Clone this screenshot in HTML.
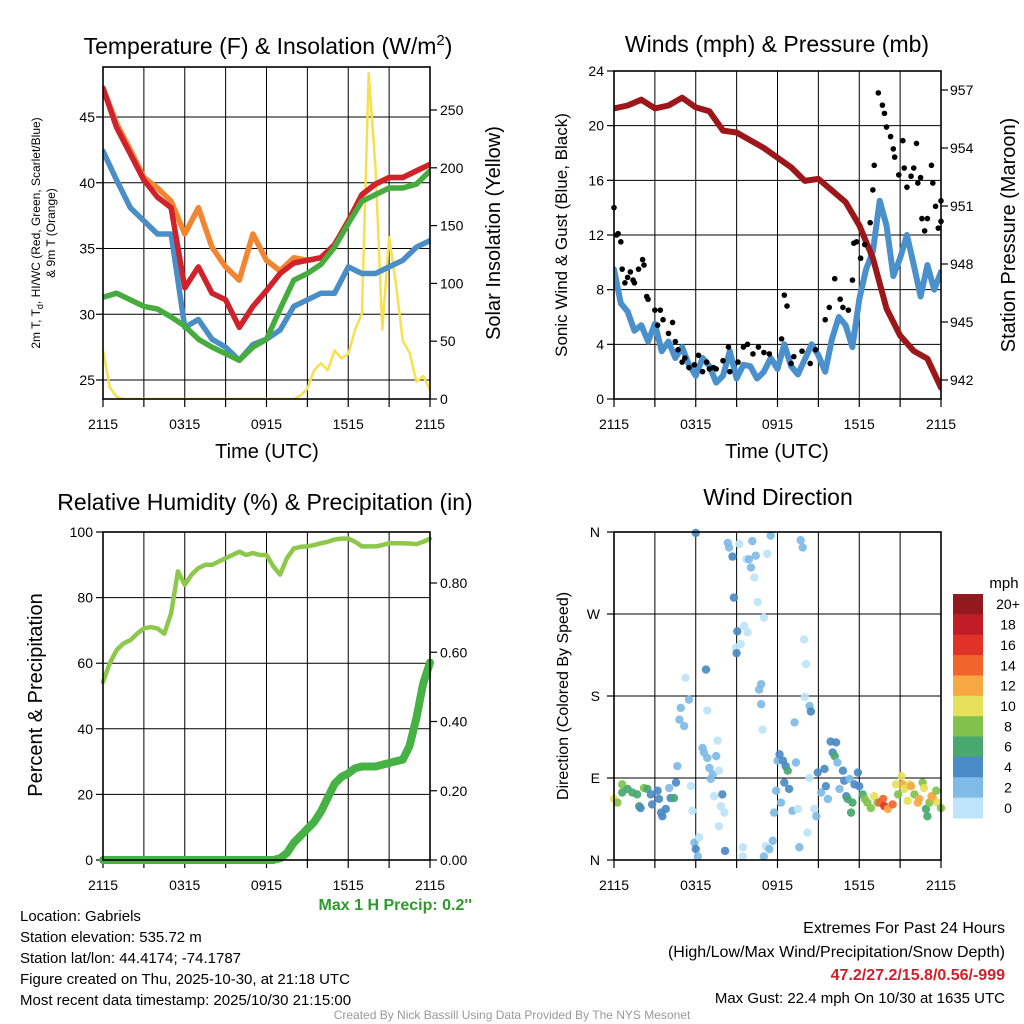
<!DOCTYPE html>
<html><head><meta charset="utf-8"><style>
body{margin:0;background:#fff}
svg{display:block;font-family:"Liberation Sans",sans-serif}
</style></head><body>
<svg id="c" width="1024" height="1024" viewBox="0 0 1024 1024">
<rect width="1024" height="1024" fill="#fff"/>
<defs>
<clipPath id="cp1"><rect x="103" y="67" width="327" height="332"/></clipPath>
<clipPath id="cp2"><rect x="614" y="71" width="327" height="328"/></clipPath>
</defs>
<g id="g1"></g>
<g id="g2"></g>
<g id="g3"></g>
<g id="g4"></g>
<text x="268" y="54" font-size="23" text-anchor="middle">Temperature (F) &amp; Insolation (W/m<tspan dy="-9" font-size="15">2</tspan><tspan dy="9">)</tspan></text>
<text x="777" y="52" font-size="23" text-anchor="middle">Winds (mph) &amp; Pressure (mb)</text>
<text x="265" y="510" font-size="23" text-anchor="middle">Relative Humidity (%) &amp; Precipitation (in)</text>
<text x="778" y="505" font-size="23" text-anchor="middle">Wind Direction</text>
<text transform="translate(40,233) rotate(-90)" font-size="12" text-anchor="middle">2m T, T<tspan font-size="9" dy="3">d</tspan><tspan dy="-3">, HI/WC (Red, Green, Scarlet/Blue)</tspan></text>
<text transform="translate(55,233) rotate(-90)" font-size="12" text-anchor="middle">&amp; 9m T (Orange)</text>
<text transform="translate(500,233) rotate(-90)" font-size="20" text-anchor="middle">Solar Insolation (Yellow)</text>
<text x="267" y="458" font-size="20" text-anchor="middle">Time (UTC)</text>
<text x="777" y="458" font-size="20" text-anchor="middle">Time (UTC)</text>
<text transform="translate(567,235) rotate(-90)" font-size="17" text-anchor="middle">Sonic Wind &amp; Gust (Blue, Black)</text>
<text transform="translate(1015,235) rotate(-90)" font-size="20" text-anchor="middle">Station Pressure (Maroon)</text>
<text transform="translate(42,695) rotate(-90)" font-size="20" text-anchor="middle">Percent &amp; Precipitation</text>
<text transform="translate(568,696) rotate(-90)" font-size="16" text-anchor="middle">Direction (Colored By Speed)</text>
<text x="1004" y="588" font-size="15" text-anchor="middle">mph</text>
<text x="472" y="910" font-size="16" font-weight="bold" fill="#2e9a2a" text-anchor="end">Max 1 H Precip: 0.2''</text>
<g font-size="15">
<text x="20" y="921">Location: Gabriels</text>
<text x="20" y="942">Station elevation: 535.72 m</text>
<text x="20" y="963">Station lat/lon: 44.4174; -74.1787</text>
<text x="20" y="984">Figure created on Thu, 2025-10-30, at 21:18 UTC</text>
<text x="20" y="1005">Most recent data timestamp: 2025/10/30 21:15:00</text>
</g>
<g font-size="16" text-anchor="end">
<text x="1005" y="933">Extremes For Past 24 Hours</text>
<text x="1005" y="957">(High/Low/Max Wind/Precipitation/Snow Depth)</text>
<text x="1005" y="980" font-weight="bold" fill="#d0202a">47.2/27.2/15.8/0.56/-999</text>
<text x="1005" y="1003" font-size="15">Max Gust: 22.4 mph On 10/30 at 1635 UTC</text>
</g>
<text x="512" y="1019" font-size="12" fill="#999" text-anchor="middle">Created By Nick Bassill Using Data Provided By The NYS Mesonet</text>
</svg>
<script>
const timeTicks=['2115','0315','0915','1515','2115'];
// hourly
const tempRed=[47.2,44.2,42.2,40.2,38.9,38.1,32,33.6,31.6,31.1,29,30.6,31.8,33.1,33.9,34.1,34.3,35.3,37.1,39.1,39.9,40.4,40.4,40.9,41.4];
const tempOrange=[47.2,44.5,42.5,40.4,39.6,38.6,36.1,38.1,35.1,33.6,32.6,36.1,34.1,33.3,34.3,34.1,34.3,35.3,37.1,39.1,39.9,40.4,40.4,40.9,41.4];
const tempBlue=[42.4,40.2,38.1,37.1,36.1,36.1,29,29.6,28.1,27.5,26.5,27.7,28.1,28.8,30.6,31.1,31.6,31.6,33.6,33.1,33.1,33.6,34.1,35.1,35.6];
const tempGreen=[31.3,31.6,31.1,30.6,30.4,29.8,29.1,28.1,27.5,27.0,26.5,27.5,28.1,30.4,32.6,33.1,33.8,35.1,36.9,38.6,39.1,39.6,39.6,39.9,40.9];
// half-hourly
const solar=[42,10,2,0,0,0,0,0,0,0,0,0,0,0,0,0,0,0,0,0,0,0,0,0,0,0,0,0,0,3,9,25,31,25,42,35,39,60,74,282,200,60,140,100,50,40,15,20,8];
const wind=[9.5,7,6.4,5,5.4,4.2,5.5,3.5,4.2,3,3.8,2.5,1.7,3,2.4,1.2,1.7,3.5,1.5,2.5,2.4,1.5,2,3,2.2,4,2.4,1.8,2.9,4,3.2,2,4.4,6,5.4,3.8,7.3,9.5,10.8,14.5,12.7,9,10.3,12,9.8,7.5,9.8,8,9.3];
// hourly
const pressure=[956.05,956.2,956.5,956.05,956.2,956.6,956.1,955.9,954.9,954.8,954.4,954.0,953.5,953.0,952.3,952.4,951.8,951.2,950.0,948.3,945.7,944.3,943.5,943.1,941.6];
// gusts (hours since 2115, mph)
const gustTimes=[0,0.2,0.3,0.5,0.6,0.8,1,1.2,1.4,1.5,1.8,2.1,2.2,2.4,2.5,3,3.2,3.4,3.6,4,4.3,4.5,4.7,5,5.2,5.5,5.9,6.2,6.5,6.8,7,7.3,7.5,8,8.4,8.5,9.1,9.5,9.8,10.2,10.6,11,11.4,12.3,12.5,12.7,13,13.2,13.8,14.4,14.8,15.5,15.8,16.2,16.6,16.8,17.2,17.5,17.6,17.8,18.1,18.4,18.8,19.0,19.1,19.4,19.7,19.85,20.0,20.3,20.5,20.6,20.9,21.2,21.3,21.5,21.8,22.0,22.2,22.3,22.5,22.6,22.8,23.0,23.3,23.4,23.6,23.8,24,24];
const gustValues=[14,12,12.1,11.5,9.5,8.5,8.9,9.3,8.7,8.5,9.5,10.2,9.8,7.5,7.3,6.5,5.4,6.5,5.8,4.8,5.6,4.2,3.6,2.7,3,2.3,2.5,3.2,2,2.7,2.2,2.3,2.2,2.8,3.8,2,2.7,3.8,4,3.3,3.8,3.4,3.3,4.4,7.6,6.8,2.6,3.1,3.5,2.6,3.6,5.8,6.7,8.8,7.3,6.7,6.5,8.7,11.4,11.5,10.3,11.3,12.9,15.3,17.1,22.4,21.5,20.9,19.9,19.2,18.3,17.7,16.4,18.9,16.9,15.5,16.3,16.9,18.7,15.8,16.2,13.2,12.3,13.2,17.1,15.8,14.1,12.5,14.5,13.0];
// half-hourly
const rh=[54.3,60,64,66,67,69,70.6,71,70.6,69,75.2,88,83.9,87,89,90,90,91,92,93,94,93,93.6,93,93,89.5,87,92,95,95.5,95.6,96,96.6,97,97.7,98,98,97,95.6,95.6,95.6,96,96.6,96.6,96.6,96.5,96.3,97,98];
const precip=[0,0,0,0,0,0,0,0,0,0,0,0,0,0,0,0,0,0,0,0,0,0,0,0,0,0,0.005,0.02,0.05,0.07,0.09,0.11,0.14,0.18,0.22,0.24,0.25,0.265,0.27,0.27,0.27,0.275,0.28,0.285,0.29,0.33,0.41,0.51,0.57];
// wind direction observations
const dirTimes=[0,0.25,0.6,0.6,1.0,1.35,1.7,1.85,1.95,2.2,2.45,2.7,2.8,3.2,3.3,3.45,3.55,3.8,4.05,4.15,4.4,4.55,4.65,4.8,4.9,5.15,5.25,5.5,5.65,5.75,5.9,6.0,6.15,6.25,6.0,6.5,6.6,6.75,6.85,6.85,7.0,7.1,7.25,7.35,7.5,7.6,7.7,7.7,7.85,7.95,8.1,8.15,8.35,8.45,8.7,8.8,8.95,9.0,9.05,9.2,9.3,9.45,9.45,9.55,9.7,9.8,9.9,10.05,10.15,10.3,10.4,10.55,10.65,10.8,10.8,10.9,11.0,11.0,11.15,11.25,11.4,11.5,11.65,11.75,11.9,12.0,12.15,12.25,12.4,12.5,12.6,12.75,12.85,13.1,13.25,13.35,13.5,13.6,13.7,13.85,13.95,14.1,14.0,14.2,14.35,14.35,14.45,14.7,14.85,14.95,15.2,15.45,15.55,15.7,15.9,16.05,16.2,16.3,16.4,16.55,16.8,16.9,17.05,17.15,17.3,17.4,17.5,17.65,17.9,18.0,18.25,18.4,18.6,18.85,19.1,19.35,19.5,19.75,19.85,20.1,20.45,20.7,20.85,21.1,21.2,21.3,21.55,21.7,21.8,22.05,22.3,22.4,22.65,22.75,22.9,23.0,23.15,23.3,23.4,23.65,23.75,24.0];
const dirDeg=[67,63,83,74,78,74,72,59,57,79,78,72,61,76,67,52,48,56,79,68,68,85,103,154,167,147,200,176,81,54,19,12,4,25,359,123,118,209,164,112,101,89,94,70,114,131,98,37,59,72,52,10,348,343,333,288,233,227,251,347,237,14,4,257,330,250,330,321,350,310,334,283,187,193,171,143,266,4,15,336,12,356,21,52,76,109,116,63,109,85,103,98,78,54,151,107,56,14,351,343,242,215,179,30,169,90,163,56,48,96,74,100,81,67,130,118,114,129,107,78,98,87,70,67,89,52,63,83,96,81,72,67,63,57,70,63,63,67,59,56,61,83,72,92,83,78,65,83,81,72,63,67,85,79,56,48,63,70,68,76,63,57];
const dirSpeed=[10,9,9,7,7,7,7,7,5,9,7,5,5,5,5,5,5,5,3,5,7,5,3,3,3,3,1,3,1,1,3,5,3,1,5,3,3,5,1,3,3,3,3,1,3,1,1,1,1,5,1,5,3,3,5,5,1,5,5,1,1,1,1,1,1,1,3,3,3,1,3,1,3,3,3,1,1,3,1,1,3,3,3,3,3,3,5,3,5,5,5,7,5,3,3,3,1,3,3,3,1,1,1,1,3,1,5,1,3,5,3,5,5,3,5,5,7,5,3,3,5,5,5,7,3,7,7,5,5,5,7,9,9,9,11,9,15,15,17,13,15,11,9,11,13,11,11,11,13,9,13,13,9,11,7,7,9,13,13,9,11,9];
const cbLabels=['20+','18','16','14','12','10','8','6','4','2','0'];
const cbColors=['#921a1e','#c01d27','#e03228','#f1652d','#f7a843','#e6e05a','#82c24c','#48a870','#4a8ac6','#7fbbe6','#bde4f8'];

const NS='http://www.w3.org/2000/svg';
function mk(parent,tag,attrs){const e=document.createElementNS(NS,tag);for(const k in attrs)e.setAttribute(k,attrs[k]);parent.appendChild(e);return e;}
function lin(d0,d1,r0,r1){return v=>r0+(v-d0)/(d1-d0)*(r1-r0);}
function frame(g,x0,y0,x1,y1){
  const r=mk(g,'rect',{x:x0,y:y0,width:x1-x0,height:y1-y0,fill:'none',stroke:'#000','stroke-width':1.6});
  
  
}
function tick(g,x1,y1,x2,y2){
  const l=mk(g,'line',{x1:x1,y1:y1,x2:x2,y2:y2,stroke:'#000','stroke-width':1.2});
  
  
}
function vgrid(g,x0,y0,x1,y1){
  for(let h=0;h<=24;h+=3){const x=x0+h/24*(x1-x0);
    if(h>0&&h<24){const l=mk(g,'line',{x1:x,x2:x,y1:y0,y2:y1,stroke:'#000','stroke-width':1});
    
    }
    tick(g,x,y1,x,y1+8);}
  timeTicks.forEach((t,i)=>{const x=x0+i*6/24*(x1-x0);
    const tx=mk(g,'text',{x:x,y:y1+30,'font-size':14,'text-anchor':'middle'});tx.textContent=t;
    
    });
}
function hline(g,x0,x1,y){
  const l=mk(g,'line',{x1:x0,x2:x1,y1:y,y2:y,stroke:'#000','stroke-width':1});
  
  
}
function label(g,x,y,t,anchor,name){
  const tx=mk(g,'text',{x:x,y:y+5,'font-size':14,'text-anchor':anchor});tx.textContent=t;
  
  
}
function path(g,arr,step,xs,ys,color,w,name){
  let d='';
  arr.forEach((v,i)=>{d+=(i?'L':'M')+xs(i*step).toFixed(1)+','+ys(v).toFixed(1);});
  const p=mk(g,'path',{d:d,fill:'none',stroke:color,'stroke-width':w,'stroke-linejoin':'round','stroke-linecap':'round'});
  
  
}

// Panel 1
(function(){const g=document.getElementById('g1');const X0=103,X1=430,Y0=67,Y1=399;
 const xs=lin(0,24,X0,X1),ys=lin(25,45,380,117),ys2=lin(0,250,399,110);
 vgrid(g,X0,Y0,X1,Y1);
 [25,30,35,40,45].forEach(v=>{hline(g,X0,X1,ys(v));tick(g,X0-7,ys(v),X0,ys(v));label(g,X0-8,ys(v),String(v),'end','temp-y-tick');});
 [0,50,100,150,200,250].forEach(v=>{tick(g,X1,ys2(v),X1+7,ys2(v));label(g,X1+10,ys2(v),String(v),'start','solar-y-tick');});
 const cg=mk(g,'g',{'clip-path':'url(#cp1)'});
 path(cg,solar,0.5,xs,ys2,'#f7e04e',2.5,'solar-line');
 path(cg,tempOrange,1,xs,ys,'#f28530',5.5,'temp-9m-line');
 path(cg,tempBlue,1,xs,ys,'#4a8ec8',5.5,'wind-chill-line');
 path(cg,tempRed,1,xs,ys,'#d0222a',5.5,'temp-2m-line');
 path(cg,tempGreen,1,xs,ys,'#46ac3e',5.5,'dewpoint-line');
 frame(g,X0,Y0,X1,Y1);
})();

// Panel 2
(function(){const g=document.getElementById('g2');const X0=614,X1=941,Y0=71,Y1=399;
 const xs=lin(0,24,X0,X1),ys=lin(0,24,399,71),ys2=lin(942,957,380,90);
 vgrid(g,X0,Y0,X1,Y1);
 [0,4,8,12,16,20,24].forEach(v=>{if(v>0&&v<24)hline(g,X0,X1,ys(v));tick(g,X0-7,ys(v),X0,ys(v));label(g,X0-10,ys(v),String(v),'end','wind-y-tick');});
 [942,945,948,951,954,957].forEach(v=>{tick(g,X1,ys2(v),X1+7,ys2(v));label(g,X1+9,ys2(v),String(v),'start','pressure-y-tick');});
 const cg=mk(g,'g',{'clip-path':'url(#cp2)'});
 path(cg,wind,0.5,xs,ys,'#4a90cc',6,'sonic-wind-line');
 path(cg,pressure,1,xs,ys2,'#9c161a',6,'pressure-line');
 gustValues.forEach((v,i)=>{const c=mk(g,'circle',{cx:xs(gustTimes[i]),cy:ys(v),r:2.8,fill:'#000'});
   
   });
 frame(g,X0,Y0,X1,Y1);
})();

// Panel 3
(function(){const g=document.getElementById('g3');const X0=103,X1=430,Y0=532,Y1=860;
 const xs=lin(0,24,X0,X1),ys=lin(0,100,860,532),ys2=lin(0,0.8,860,583);
 vgrid(g,X0,Y0,X1,Y1);
 [0,20,40,60,80,100].forEach(v=>{if(v>0&&v<100)hline(g,X0,X1,ys(v));tick(g,X0-7,ys(v),X0,ys(v));label(g,X0-10,ys(v),String(v),'end','humidity-y-tick');});
 [0,0.2,0.4,0.6,0.8].forEach(v=>{tick(g,X1,ys2(v),X1+7,ys2(v));label(g,X1+10,ys2(v),v.toFixed(2),'start','precip-y-tick');});
 path(g,rh,0.5,xs,ys,'#8dc84c',4.5,'humidity-line');
 path(g,precip,0.5,xs,ys2,'#46b244',8,'precip-line');
 frame(g,X0,Y0,X1,Y1);
})();

// Panel 4
(function(){const g=document.getElementById('g4');const X0=614,X1=941,Y0=532,Y1=860;
 const xs=lin(0,24,X0,X1),ys=lin(0,360,860,532);
 vgrid(g,X0,Y0,X1,Y1);
 ['N','E','S','W','N'].forEach((t,i)=>{if(i>0&&i<4)hline(g,X0,X1,ys(i*90));tick(g,X0-7,ys(i*90),X0,ys(i*90));label(g,X0-14,ys(i*90),t,'end','direction-y-tick');});
 dirDeg.forEach((v,i)=>{const s=dirSpeed[i];const bin=Math.min(10,Math.floor(s/2));
   const c=mk(g,'circle',{cx:xs(dirTimes[i]),cy:ys(v),r:4.2,fill:cbColors[10-bin],'fill-opacity':0.92});
   
   });
 frame(g,X0,Y0,X1,Y1);
 const bh=224/11;
 cbColors.forEach((col,i)=>{const r=mk(g,'rect',{x:953,y:594+i*bh,width:30,height:bh+0.5,fill:col});
   
   });
 cbLabels.forEach((t,i)=>{const tx=mk(g,'text',{x:1008,y:594+(i+0.5)*bh+5,'font-size':14,'text-anchor':'middle'});tx.textContent=t;
   
   });
})();
</script>
</body></html>
